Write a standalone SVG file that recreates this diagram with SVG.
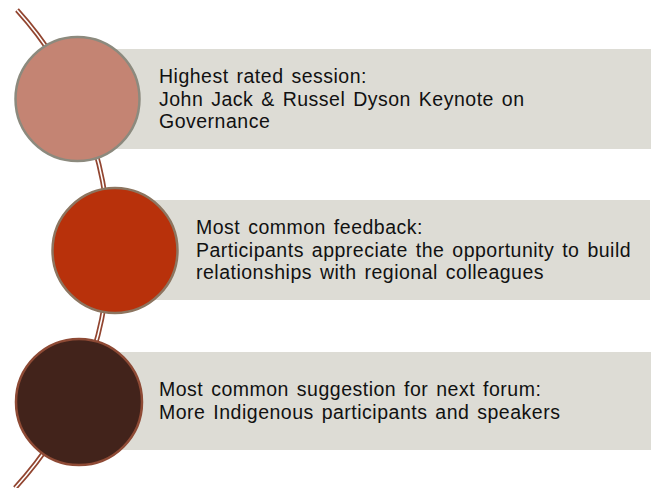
<svg xmlns="http://www.w3.org/2000/svg" width="656" height="488" viewBox="0 0 656 488">
<style>
.box{fill:#dddcd5}
.t{font-family:"Liberation Sans",Arial,sans-serif;font-size:19.5px;letter-spacing:0.5px;word-spacing:2px;fill:#111}
.spineo{fill:none;stroke:#924530;stroke-width:5}
.spinei{fill:none;stroke:#ffffff;stroke-width:1.6}
</style>
<rect width="656" height="488" fill="#ffffff"/>
<g id="boxes">
<rect class="box" x="78" y="49" width="573" height="100"/>
<rect class="box" x="115" y="200" width="535" height="100"/>
<rect class="box" x="79" y="352" width="572" height="98"/>
</g>
<g id="connectors">
<path class="spineo" d="M17,10 A354,354 0 0 1 15,488"/>
<path class="spinei" d="M17,10 A354,354 0 0 1 15,488"/>
</g>
<g id="node1">
<circle cx="77.5" cy="99" r="62" fill="#c48473" stroke="#8c8a7e" stroke-width="2.5"/>
<text class="t" x="159" y="83">Highest rated session:</text>
<text class="t" x="159" y="105.5">John Jack &amp; Russel Dyson Keynote on</text>
<text class="t" x="159" y="128">Governance</text>
</g>
<g id="node2">
<circle cx="115" cy="250.5" r="62.5" fill="#b8310b" stroke="#8c7560" stroke-width="2.5"/>
<text class="t" x="196" y="234">Most common feedback:</text>
<text class="t" x="196" y="256.5">Participants appreciate the opportunity to build</text>
<text class="t" x="196" y="279">relationships with regional colleagues</text>
</g>
<g id="node3">
<circle cx="79" cy="402" r="63" fill="#42231b" stroke="#8e4a35" stroke-width="2.5"/>
<text class="t" x="159" y="396">Most common suggestion for next forum:</text>
<text class="t" x="159" y="418.5">More Indigenous participants and speakers</text>
</g>
</svg>
